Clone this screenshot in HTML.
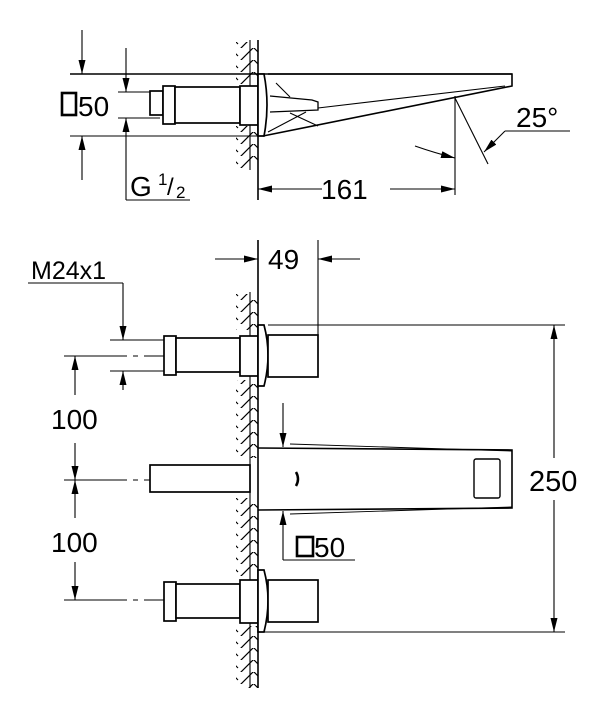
<!DOCTYPE html>
<html><head><meta charset="utf-8"><style>
html,body{margin:0;padding:0;background:#fff}
svg{display:block}
text{font-family:"Liberation Sans",Arial,sans-serif;fill:#000}
</style></head><body>
<svg width="607" height="720" viewBox="0 0 607 720" xmlns="http://www.w3.org/2000/svg">
<defs>
<pattern id="h" x="0" y="0" width="24" height="12" patternUnits="userSpaceOnUse">
<path d="M0,13 L14,-1 M14,0 L22,8 M-2,1 L0,-1" stroke="#000" stroke-width="1.2" fill="none"/>
</pattern>
<marker id="a" viewBox="0 0 14 7" refX="14" refY="3.5" markerWidth="14" markerHeight="7" orient="auto" markerUnits="userSpaceOnUse"><path d="M0,0 L14,3.5 L0,7 Z" fill="#000"/></marker>
</defs>
<g stroke="#000" fill="none" stroke-width="1.1">
<!-- TOP VIEW wall -->
<rect x="236" y="42" width="22" height="126" fill="url(#h)" stroke="none"/>
<rect x="236" y="84" width="22" height="42" fill="#fff" stroke="none"/>
<line x1="250" y1="40" x2="250" y2="170"/>
<line x1="258" y1="40" x2="258" y2="200" stroke-width="1.6"/>
<line x1="70" y1="74" x2="512" y2="74" stroke-width="1.4"/>
<line x1="70" y1="136" x2="262" y2="136"/>
<line x1="118" y1="92" x2="160" y2="92"/>
<line x1="118" y1="118" x2="160" y2="118"/>
<line x1="82" y1="30" x2="82" y2="74" marker-end="url(#a)"/>
<line x1="82" y1="180" x2="82" y2="136" marker-end="url(#a)"/>
<line x1="126" y1="48" x2="126" y2="92" marker-end="url(#a)"/>
<line x1="126" y1="200" x2="126" y2="118" marker-end="url(#a)"/>
<polyline points="126,200 190,200"/>
<g stroke-width="1.7" fill="#fff">
<rect x="150" y="91" width="13" height="24"/>
<rect x="163" y="86" width="12" height="38"/>
<rect x="175" y="87" width="65" height="36"/>
<rect x="240" y="86" width="18" height="39"/>
<path d="M258,74 L264,74 Q270,105 264,136 L258,136 Z"/>
</g>
<path d="M268,74 L512,74 L512,86 L263,136" stroke-width="1.6"/>
<path d="M270,96 L312,100 L318,102 L318,110 L270,112" stroke-width="1.3"/>
<line x1="318" y1="108" x2="505" y2="86"/>
<line x1="276" y1="83" x2="290" y2="97"/>
<line x1="290" y1="113" x2="318" y2="126"/>
<line x1="268" y1="132" x2="306" y2="112"/>
<line x1="455" y1="96" x2="455" y2="195"/>
<line x1="455" y1="98" x2="488" y2="164"/>
<path d="M415,146 Q435,153 455,158" marker-end="url(#a)"/>
<line x1="505" y1="131" x2="570" y2="131"/>
<line x1="505" y1="131" x2="484" y2="152" marker-end="url(#a)"/>
<line x1="322" y1="189" x2="258" y2="189" marker-end="url(#a)"/>
<line x1="390" y1="189" x2="455" y2="189" marker-end="url(#a)"/>

<!-- BOTTOM VIEW wall -->
<rect x="236" y="294" width="22" height="394" fill="url(#h)" stroke="none"/>
<rect x="236" y="330" width="22" height="50" fill="#fff" stroke="none"/>
<rect x="236" y="458" width="22" height="40" fill="#fff" stroke="none"/>
<rect x="236" y="576" width="22" height="50" fill="#fff" stroke="none"/>
<line x1="250" y1="292" x2="250" y2="688"/>
<line x1="258" y1="240" x2="258" y2="688" stroke-width="1.6"/>
<line x1="318" y1="240" x2="318" y2="336"/>
<line x1="215" y1="259" x2="258" y2="259" marker-end="url(#a)"/>
<line x1="360" y1="259" x2="318" y2="259" marker-end="url(#a)"/>
<polyline points="28,283 123,283"/>
<line x1="123" y1="283" x2="123" y2="340" marker-end="url(#a)"/>
<line x1="123" y1="390" x2="123" y2="371" marker-end="url(#a)"/>
<line x1="110" y1="340" x2="165" y2="340"/>
<line x1="110" y1="371" x2="165" y2="371"/>
<path d="M64,356 H127 M133,356 H138 M144,356 H164"/>
<path d="M64,480 H127 M133,480 H138 M144,480 H150"/>
<path d="M64,600 H127 M133,600 H138 M144,600 H164"/>
<line x1="75" y1="395" x2="75" y2="356" marker-end="url(#a)"/>
<line x1="75" y1="443" x2="75" y2="480" marker-end="url(#a)"/>
<line x1="75" y1="518" x2="75" y2="480" marker-end="url(#a)"/>
<line x1="75" y1="562" x2="75" y2="600" marker-end="url(#a)"/>
<g stroke-width="1.7" fill="#fff">
<rect x="164" y="336" width="12" height="39"/>
<rect x="176" y="338" width="64" height="34"/>
<rect x="240" y="336" width="18" height="40"/>
<path d="M258,325 L264,325 Q272,355 264,386 L258,386 Z"/>
<rect x="268" y="335" width="50" height="42"/>
<rect x="164" y="582" width="12" height="39"/>
<rect x="176" y="584" width="64" height="34"/>
<rect x="240" y="580" width="18" height="43"/>
<path d="M258,570 L264,570 Q272,600 264,632 L258,632 Z"/>
<rect x="268" y="580" width="50" height="42"/>
<rect x="150" y="465" width="100" height="27"/>
</g>
<line x1="268" y1="325" x2="565" y2="325"/>
<line x1="264" y1="632" x2="565" y2="632"/>
<path d="M258,448 L512,450 L512,508 L258,510" stroke-width="1.6"/>
<path d="M290,444 L512,451 M290,514 L512,507" stroke-width="0.9"/>
<rect x="474" y="459" width="26" height="39" rx="2" stroke-width="1.4"/>
<path d="M296,472 Q300,479 296,486" stroke-width="2.5"/>
<line x1="283" y1="403" x2="283" y2="447" marker-end="url(#a)"/>
<polyline points="283,560 355,560"/>
<line x1="283" y1="560" x2="283" y2="511" marker-end="url(#a)"/>
<line x1="554" y1="458" x2="554" y2="325" marker-end="url(#a)"/>
<line x1="554" y1="500" x2="554" y2="632" marker-end="url(#a)"/>
</g>
<g stroke="#000" fill="none" stroke-width="2.6">
<rect x="62" y="93" width="14" height="22"/>
<rect x="297" y="537" width="16" height="19"/>
</g>
<text x="78" y="116" font-size="28">50</text>
<text x="130" y="196" font-size="28">G</text>
<text x="158" y="185" font-size="17">1</text>
<text x="167" y="195" font-size="24">/</text>
<text x="176" y="198" font-size="17">2</text>
<text x="321" y="199" font-size="28">161</text>
<text x="516" y="127" font-size="28">25°</text>
<text x="268" y="269" font-size="28">49</text>
<text x="31" y="279" font-size="25">M24x1</text>
<text x="51" y="429" font-size="28">100</text>
<text x="51" y="552" font-size="28">100</text>
<text x="314" y="557" font-size="28">50</text>
<text x="529" y="491" font-size="29">250</text>
</svg>
</body></html>
